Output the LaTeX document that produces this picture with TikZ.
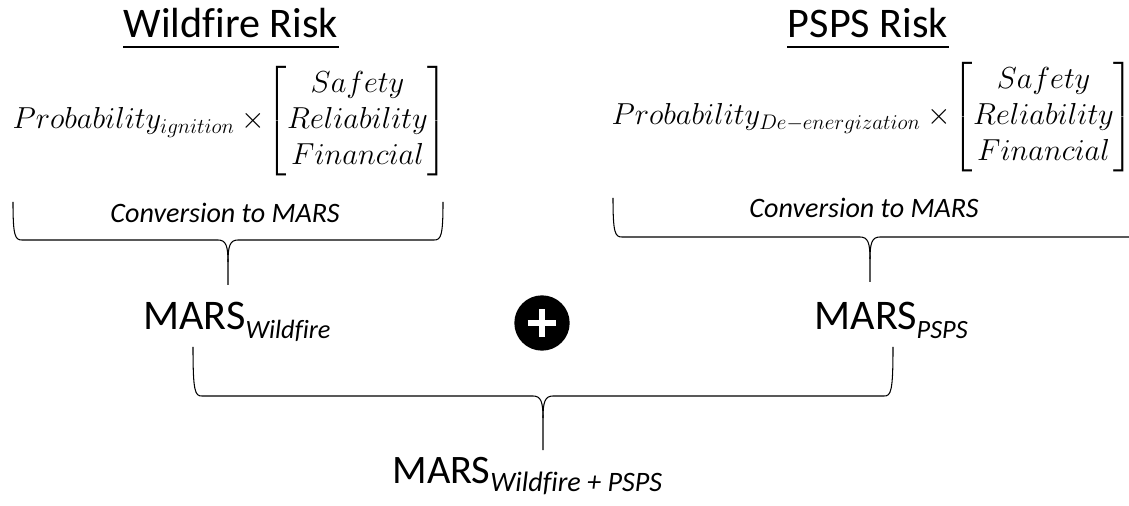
\documentclass[tikz,border=0pt]{standalone}
\usepackage{amsmath}
\usepackage{fontspec}
\setmainfont{Carlito}[Ligatures=NoCommon]
\usetikzlibrary{positioning}

% brace: left x, right x, tip x, top y, middle y, bottom y
\newcommand{\officebrace}[6]{%
  \draw (#1,#4) .. controls (#1,#5-4) and (#1+2,#5) .. (#1+9,#5) -- (#3-10,#5)
        .. controls (#3-2,#5) and (#3,#5+6) .. (#3,#5+22) -- (#3,#6);
  \draw (#2,#4) .. controls (#2,#5-4) and (#2-2,#5) .. (#2-9,#5) -- (#3+10,#5)
        .. controls (#3+2,#5) and (#3,#5+6) .. (#3,#5+22);
}

\begin{document}
\begin{tikzpicture}[x=0.02cm,y=-0.02cm,line width=0.6pt,
                    title/.style={inner sep=0pt,font=\fontsize{24}{29}\selectfont},
                    formula/.style={inner sep=0pt,font=\fontsize{17}{20.4}\selectfont},
                    conv/.style={inner sep=0pt,font=\fontsize{16}{19}\selectfont\itshape},
                    mars/.style={inner sep=0pt,font=\fontsize{24}{29}\selectfont}]
  \useasboundingbox (0,0) rectangle (1129,506);

  % Wildfire side
  \node[title,anchor=base] (wfrisk) at (231,38) {Wildfire Risk};
  \draw[line width=1.4pt] ([yshift=-5pt]wfrisk.base west) -- ([yshift=-5pt]wfrisk.base east);
  \node[formula,anchor=west] (wfprob) at (12,121)
    {$Probability_{ignition}\times\!\begin{bmatrix}Safety\\Reliability\\Financial\end{bmatrix}$};
  \node[conv,anchor=base] (wfconv) at (225,223) {Conversion to MARS};
  \officebrace{13}{443}{228}{202}{240}{285}
  \node[mars,anchor=base west] (marswf) at (143,330)
    {MARS\raisebox{-5pt}{\fontsize{15}{18}\selectfont\itshape Wildfire}};

  % PSPS side
  \node[title,anchor=base] (pspsrisk) at (868,38) {PSPS Risk};
  \draw[line width=1.4pt] ([yshift=-5pt]pspsrisk.base west) -- ([yshift=-5pt]pspsrisk.base east);
  \node[formula,anchor=west] (pspsprob) at (611,117)
    {$Probability_{De-energization}\times\!\begin{bmatrix}Safety\\Reliability\\Financial\end{bmatrix}$};
  \node[conv,anchor=base] (pspsconv) at (864,218) {Conversion to MARS};
  \officebrace{613}{1145}{870}{198}{237}{282}
  \node[mars,anchor=base west] (marspsps) at (814,330)
    {MARS\raisebox{-5pt}{\fontsize{15}{18}\selectfont\itshape PSPS}};

  % plus sign
  \node[circle,fill=black,minimum size=31.5pt,inner sep=0pt] (plus) at (542,323) {};
  \draw[white,line width=3.6pt] ([xshift=-8pt]plus.center) -- ([xshift=8pt]plus.center);
  \draw[white,line width=3.6pt] ([yshift=-8pt]plus.center) -- ([yshift=8pt]plus.center);

  % total
  \officebrace{193}{893}{543}{347}{396}{450}
  \node[mars,anchor=base west,font=\fontsize{23}{28}\selectfont] (marstotal) at (392,483)
    {MARS\raisebox{-5pt}{\fontsize{16}{19}\selectfont\itshape Wildfire + PSPS}};
\end{tikzpicture}
\end{document}
